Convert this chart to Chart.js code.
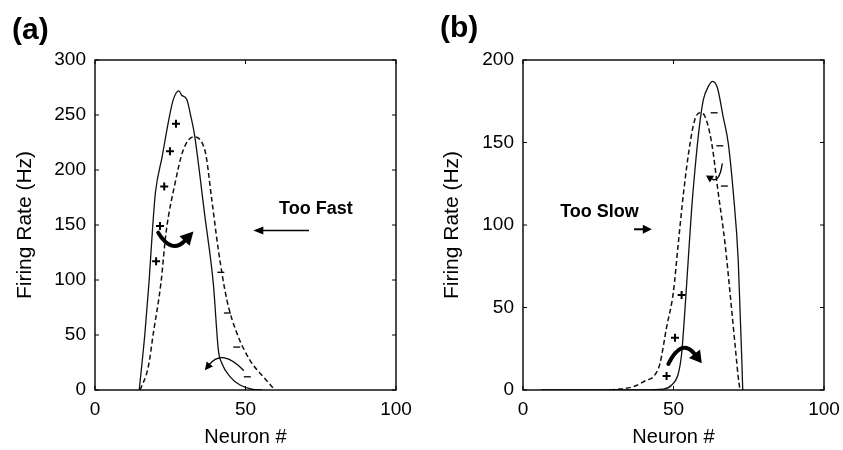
<!DOCTYPE html>
<html>
<head>
<meta charset="utf-8">
<script src="https://cdn.jsdelivr.net/npm/chart.js@4.4.0/dist/chart.umd.min.js"></script>
<style>
  body { margin: 0; background: #fff; }
  #wrap { position: relative; width: 843px; height: 450px; overflow: hidden; }
  canvas { position: absolute; top: 0; }
  .tag { position: absolute; font: bold 30px "Liberation Sans", Arial, sans-serif; color: #000; line-height: 1; }
</style>
</head>
<body>
<div id="wrap">
  <canvas id="panelA" width="421" height="450" style="left:0"></canvas>
  <canvas id="panelB" width="422" height="450" style="left:421px"></canvas>
  <div class="tag" style="left:12px;top:14px">(a)</div>
  <div class="tag" style="left:440px;top:12px">(b)</div>
</div>
<script>
// axis ticks
const xTicks = [0, 50, 100];
const yTicksA = [0, 50, 100, 150, 200, 250, 300];
const yTicksB = [0, 50, 100, 150, 200];

// panel (a): firing rate vs neuron, [neuron, Hz]
const solidA = [[14.7,0],[16.6,52],[18.0,100],[19.2,150],[20.1,180],[22.3,212],[24.4,244],[26.0,264],
  [27.9,272],[28.8,268],[30.5,264],[31.9,248],[33.0,233],[36.5,158],[39.3,97],[41.0,36],[42.1,24.5],
  [44.9,12],[48.2,4.5],[52.5,0.5],[55.5,0]];
const dashedA = [[15.0,0],[17.7,21],[19.4,52],[21.9,97],[23.6,143],[26.6,188],[29.3,218],[32.7,230],
  [36.5,218],[38.8,173],[41.0,127],[43.8,82],[47.1,52],[51.5,27],[55.9,12],[59.8,0]];
const plusA = [[26.9,242],[24.9,217],[23.0,185],[21.6,149],[20.3,117]];
const minusA = [[41.8,107],[44.0,70],[47.1,39],[50.6,12]];

// panel (b)
const solidB = [[6,0],[40,0],[46.6,0.5],[49.4,3],[51.6,10],[52.7,22],[53.8,48.5],[54.9,79],[56.0,109],
  [57.1,133],[58.6,159.6],[59.9,175.8],[61.6,184],[63.0,187],[64.6,183],[66.5,165.6],[68.2,149.5],
  [69.9,119],[71.5,78.8],[72.1,48.5],[72.7,18],[73.0,0]];
const dashedB = [[28.9,0],[36.6,2],[41.1,6],[43.3,8],[45.5,16],[47.7,38],[49.9,58.6],[51.6,89],[53.3,119],
  [55.5,149.5],[57.1,164],[58.8,168],[60.5,165.6],[62.7,149.5],[64.9,119],[67.1,89],[68.8,58.6],
  [70.4,28.3],[71.5,8],[72.1,0]];
const plusB = [[52.7,57.6],[50.5,31.7],[47.7,8.5]];
const minusB = [[63.5,168],[65.4,148],[66.9,123.6]];

// annotations in data units: curved arrows [start, control, end]
const curvesA = [
  { pts: [[21.0,143],[25.5,123],[32.7,144]], width: 4, head: 13, half: 7 },
  { pts: [[49.3,18],[42.3,38],[36.5,18]], width: 1.3, head: 8, half: 4 }
];
const curvesB = [
  { pts: [[48.3,15.8],[52.8,32],[59.4,16.2]], width: 4, head: 12, half: 7 },
  { pts: [[66.2,137],[65.2,125],[60.8,130]], width: 1.3, head: 7, half: 4 }
];
const arrowsA = [{ from: [71.1,145], to: [52.6,145], width: 1.5, head: 10, half: 4 }];
const arrowsB = [{ from: [36.9,97.4], to: [42.8,97.4], width: 2, head: 9, half: 4.5 }];
const notesA = [{ text: 'Too Fast', at: [73.4,164.5] }];
const notesB = [{ text: 'Too Slow', at: [25.4,108] }];

const FONT = '"Liberation Sans", Arial, sans-serif';

function toPts(list) {
  return list.map(p => ({ x: p[0], y: p[1] }));
}

function head(ctx, tip, dir, len, half) {
  const n = Math.hypot(dir[0], dir[1]);
  const ux = dir[0] / n, uy = dir[1] / n;
  const bx = tip[0] - ux * len, by = tip[1] - uy * len;
  ctx.beginPath();
  ctx.moveTo(tip[0], tip[1]);
  ctx.lineTo(bx - uy * half, by + ux * half);
  ctx.lineTo(bx + uy * half, by - ux * half);
  ctx.closePath();
  ctx.fill();
  return [bx + ux * 1, by + uy * 1];
}

const framePlugin = {
  id: 'frame',
  afterDatasetsDraw(chart, args, opts) {
    const { ctx, chartArea: a, scales: { x, y } } = chart;
    const px = p => [x.getPixelForValue(p[0]), y.getPixelForValue(p[1])];
    ctx.save();
    ctx.strokeStyle = '#000';
    ctx.fillStyle = '#000';
    ctx.lineWidth = 1.4;
    ctx.strokeRect(a.left, a.top, a.width, a.height);

    // inward ticks on all four sides
    ctx.lineWidth = 1;
    ctx.beginPath();
    x.ticks.forEach(t => {
      const p = x.getPixelForValue(t.value);
      ctx.moveTo(p, a.bottom); ctx.lineTo(p, a.bottom - 4);
      ctx.moveTo(p, a.top); ctx.lineTo(p, a.top + 4);
    });
    y.ticks.forEach(t => {
      const p = y.getPixelForValue(t.value);
      ctx.moveTo(a.left, p); ctx.lineTo(a.left + 4, p);
      ctx.moveTo(a.right, p); ctx.lineTo(a.right - 4, p);
    });
    ctx.stroke();

    // curved arrows
    (opts.curves || []).forEach(c => {
      const p0 = px(c.pts[0]), cp = px(c.pts[1]), p1 = px(c.pts[2]);
      const dir = [p1[0] - cp[0], p1[1] - cp[1]];
      const base = head(ctx, p1, dir, c.head, c.half);
      ctx.lineWidth = c.width;
      ctx.lineCap = 'round';
      ctx.beginPath();
      ctx.moveTo(p0[0], p0[1]);
      ctx.quadraticCurveTo(cp[0], cp[1], base[0], base[1]);
      ctx.stroke();
    });

    // straight arrows
    (opts.arrows || []).forEach(s => {
      const p0 = px(s.from), p1 = px(s.to);
      const base = head(ctx, p1, [p1[0] - p0[0], p1[1] - p0[1]], s.head, s.half);
      ctx.lineWidth = s.width;
      ctx.lineCap = 'butt';
      ctx.beginPath();
      ctx.moveTo(p0[0], p0[1]);
      ctx.lineTo(base[0], base[1]);
      ctx.stroke();
    });

    // text notes
    ctx.font = 'bold 18px ' + FONT;
    ctx.textAlign = 'center';
    ctx.textBaseline = 'middle';
    (opts.notes || []).forEach(n => {
      const p = px(n.at);
      ctx.fillText(n.text, p[0], p[1]);
    });
    ctx.restore();
  }
};

function makePanel(id, solid, dashed, plus, minus, yTicks, yMax, yWidth, padRight, titlePad, extras) {
  return new Chart(document.getElementById(id), {
    type: 'line',
    data: {
      datasets: [
        { data: toPts(solid), borderColor: '#111', borderWidth: 1.3, pointRadius: 0, cubicInterpolationMode: 'monotone' },
        { data: toPts(dashed), borderColor: '#111', borderWidth: 1.5, borderDash: [5, 3], pointRadius: 0, cubicInterpolationMode: 'monotone' },
        { data: toPts(plus), showLine: false, pointStyle: 'cross', pointRadius: 4, borderWidth: 2, borderColor: '#000' },
        { data: toPts(minus), showLine: false, pointStyle: 'line', pointRadius: 3.5, borderWidth: 1.3, borderColor: '#000' }
      ]
    },
    options: {
      responsive: false,
      animation: false,
      layout: { padding: { top: 60, right: padRight, left: 0, bottom: 0 } },
      plugins: { legend: { display: false }, tooltip: { enabled: false }, frame: extras },
      scales: {
        x: {
          type: 'linear', min: 0, max: 100,
          afterBuildTicks: s => { s.ticks = xTicks.map(v => ({ value: v })); },
          afterFit: s => { s.height = 60; },
          grid: { display: false }, border: { display: false },
          ticks: { padding: 0, color: '#000', maxRotation: 0, font: { family: FONT, size: 19 } },
          title: { display: true, text: 'Neuron #', color: '#000', font: { family: FONT, size: 20 }, padding: { top: 0, bottom: 1 } }
        },
        y: {
          type: 'linear', min: 0, max: yMax,
          afterBuildTicks: s => { s.ticks = yTicks.map(v => ({ value: v })); },
          afterFit: s => { s.width = yWidth; },
          grid: { display: false }, border: { display: false },
          ticks: { padding: 1, color: '#000', font: { family: FONT, size: 19 } },
          title: { display: true, text: 'Firing Rate (Hz)', color: '#000', font: { family: FONT, size: 21 }, padding: { top: titlePad, bottom: 0 } }
        }
      }
    },
    plugins: [framePlugin]
  });
}

makePanel('panelA', solidA, dashedA, plusA, minusA, yTicksA, 300, 95, 25, 13,
  { curves: curvesA, arrows: arrowsA, notes: notesA });
makePanel('panelB', solidB, dashedB, plusB, minusB, yTicksB, 200, 102, 19, 19,
  { curves: curvesB, arrows: arrowsB, notes: notesB });
</script>
</body>
</html>
